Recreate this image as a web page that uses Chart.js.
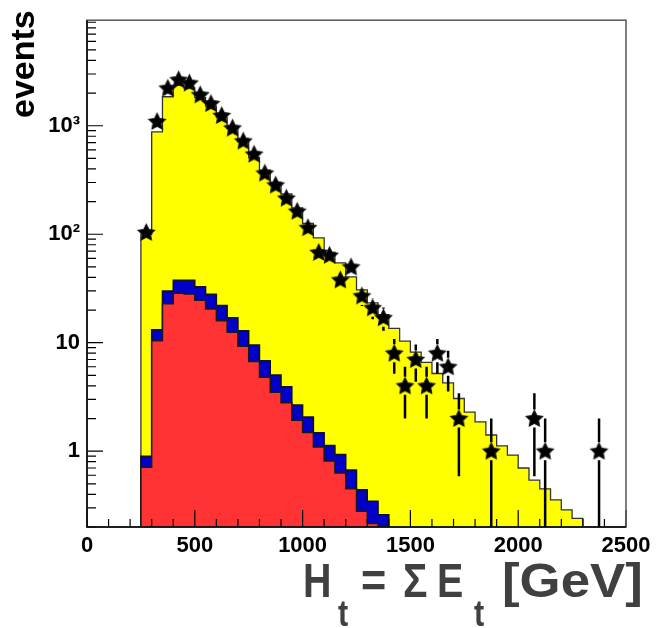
<!DOCTYPE html>
<html>
<head>
<meta charset="utf-8">
<script src="https://cdn.jsdelivr.net/npm/chart.js@4.4.1/dist/chart.umd.min.js"></script>
<style>
  html, body { margin: 0; padding: 0; background: #fff; }
  #wrap { width: 658px; height: 628px; }
</style>
</head>
<body>
<div id="wrap"><canvas id="myChart"></canvas></div>
<script>
// lower edges of the 50 GeV bins
const binLow = [250, 300, 350, 400, 450, 500, 550, 600, 650, 700,
  750, 800, 850, 900, 950, 1000, 1050, 1100, 1150, 1200,
  1250, 1300, 1350, 1400, 1450, 1500, 1550, 1600, 1650, 1700,
  1750, 1800, 1850, 1900, 1950, 2000, 2050, 2100, 2150, 2200, 2250];
const binWidth = 50;

// stacked MC components (events per bin)
const redVals = [0.71, 10.4, 22.9, 28.6, 28.1, 24.6, 20.5, 15.9, 12.5, 9.3,
  6.7, 4.8, 3.5, 2.8, 1.93, 1.49, 1.09, 0.81, 0.63, 0.45,
  0.28, 0.215, 0.15, 0.1, 0.07, 0, 0, 0, 0, 0,
  0, 0, 0, 0, 0, 0, 0, 0, 0, 0, 0];
const blueVals = [0.19, 2.8, 7.1, 9.1, 9.6, 8.2, 7.5, 6.1, 4.5, 3.6,
  2.8, 2.0, 1.55, 1.12, 0.74, 0.58, 0.39, 0.32, 0.30, 0.22,
  0.16, 0.13, 0.11, 0.08, 0.05, 0, 0, 0, 0, 0,
  0, 0, 0, 0, 0, 0, 0, 0, 0, 0, 0];
const yellowVals = [99, 864, 1822, 2317, 2192, 1784, 1491, 1175, 922, 700,
  500, 383, 295, 231, 172, 124, 91, 67, 53.6, 39.7,
  30.2, 22.9, 17.9, 13.4, 10.2, 8.2, 6.6, 5.2, 4.27, 3.06,
  2.29, 1.86, 1.41, 1.12, 0.92, 0.70, 0.54, 0.45, 0.355, 0.288, 0.24];

// observed events (bin centres)
const dataHt = [275, 325, 375, 425, 475, 525, 575, 625, 675, 725,
  775, 825, 875, 925, 975, 1025, 1075, 1125, 1175, 1225,
  1275, 1325, 1375, 1425, 1475, 1525, 1575, 1625, 1675, 1725,
  1875, 2075, 2125, 2375];
const dataEvents = [104, 1096, 2221, 2656, 2478, 1931, 1603, 1242, 953, 723,
  547, 366, 284, 215, 163, 115, 68, 64, 38, 50,
  27, 21, 17, 8, 4, 7, 4, 8, 6, 2,
  1, 2, 1, 1];

const xTicks = [0, 500, 1000, 1500, 2000, 2500];
const yTicks = [1, 10, 100, 1000];
const yTickLabels = ['1', '10', '10²', '10³'];

const yMin = 0.2, yMax = 9400;
const floorVal = 0.1;
const FONT = "'Liberation Sans', Arial, Helvetica, sans-serif";

function stepPoints(vals) {
  const pts = [{x: binLow[0], y: floorVal}];
  vals.forEach((v, i) => pts.push({x: binLow[i], y: Math.max(v, floorVal)}));
  pts.push({x: binLow[binLow.length - 1] + binWidth, y: floorVal});
  return pts;
}

const redTop = redVals.slice();
const blueTop = redVals.map((v, i) => v + blueVals[i]);
const totalTop = blueTop.map((v, i) => v + yellowVals[i]);

function makeStar(r) {
  const c = document.createElement('canvas');
  const s = Math.ceil(r * 2 + 3);
  c.width = s; c.height = s;
  const g = c.getContext('2d');
  g.translate(s / 2, s / 2 + 0.5);
  g.beginPath();
  for (let i = 0; i < 10; i++) {
    const rad = i % 2 ? r * 0.5 : r;
    const a = -Math.PI / 2 + i * Math.PI / 5;
    g.lineTo(rad * Math.cos(a), rad * Math.sin(a));
  }
  g.closePath();
  g.fillStyle = '#000';
  g.fill();
  g.strokeStyle = '#111';
  g.lineWidth = 1.2;
  g.stroke();
  return c;
}
const starImg = makeStar(8.6);

// poisson error bars under the star markers
const errorBars = {
  id: 'errorBars',
  beforeDatasetDraw(chart, args) {
    if (args.index !== 3) return;
    const ctx = chart.ctx, x = chart.scales.x, y = chart.scales.y, area = chart.chartArea;
    const gap = 9;
    ctx.save();
    ctx.strokeStyle = '#000';
    ctx.lineWidth = 2.5;
    dataEvents.forEach((n, i) => {
      const px = x.getPixelForValue(dataHt[i]);
      const cy = y.getPixelForValue(n);
      const e = Math.sqrt(n);
      const yTop = y.getPixelForValue(n + e);
      const yBot = n - e > 0 ? y.getPixelForValue(n - e) : area.bottom;
      ctx.beginPath();
      if (yTop < cy - gap) { ctx.moveTo(px, yTop); ctx.lineTo(px, cy - gap); }
      if (yBot > cy + gap) { ctx.moveTo(px, cy + gap); ctx.lineTo(px, Math.min(yBot, area.bottom)); }
      ctx.stroke();
    });
    ctx.restore();
  }
};

// root style frame, inward ticks and titles
const rootFrame = {
  id: 'rootFrame',
  afterDatasetsDraw(chart) {
    const ctx = chart.ctx, x = chart.scales.x, y = chart.scales.y, a = chart.chartArea;
    ctx.save();
    ctx.strokeStyle = '#000';
    ctx.lineWidth = 1.2;
    ctx.beginPath();
    for (let v = 0; v <= 2500; v += 100) {
      const px = x.getPixelForValue(v);
      const len = v % 500 === 0 ? 17 : 8;
      ctx.moveTo(px, a.bottom);
      ctx.lineTo(px, a.bottom - len);
    }
    for (let d = 0.1; d < 10000; d *= 10) {
      for (let m = 1; m <= 9; m++) {
        const v = m * d;
        if (v < yMin || v > yMax) continue;
        const py = y.getPixelForValue(v);
        const len = m === 1 ? 16 : 9;
        ctx.moveTo(a.left, py);
        ctx.lineTo(a.left + len, py);
      }
    }
    ctx.stroke();
    ctx.strokeStyle = '#555';
    ctx.lineWidth = 1.5;
    ctx.strokeRect(a.left, a.top, a.right - a.left, a.bottom - a.top);
    ctx.strokeStyle = '#000';
    ctx.beginPath();
    ctx.moveTo(a.left, a.top);
    ctx.lineTo(a.left, a.bottom);
    ctx.lineTo(a.right, a.bottom);
    ctx.stroke();
    ctx.restore();
  },
  afterDraw(chart) {
    const ctx = chart.ctx;
    ctx.save();
    // y title
    ctx.translate(34, 118);
    ctx.rotate(-Math.PI / 2);
    ctx.fillStyle = '#000';
    ctx.font = 'bold 34px ' + FONT;
    ctx.fillText('events', 0, 0);
    ctx.restore();

    // x title with subscripts, pieces placed like the original
    const parts = [
      {t: 'H', f: 'bold 48px ' + FONT, x: 303, dy: 0, sx: 0.82},
      {t: 't', f: 'bold 36px ' + FONT, x: 338, dy: 29, sx: 0.85},
      {t: '=', f: 'bold 48px ' + FONT, x: 361, dy: 0, sx: 0.9},
      {t: 'Σ', f: 'bold 48px ' + FONT, x: 403, dy: 0, sx: 0.85},
      {t: 'E', f: 'bold 48px ' + FONT, x: 437, dy: 0, sx: 0.82},
      {t: 't', f: 'bold 36px ' + FONT, x: 474, dy: 29, sx: 0.85},
      {t: '[GeV]', f: 'bold 48px ' + FONT, x: 502, dy: 0, sx: 1.1}
    ];
    ctx.fillStyle = '#404040';
    parts.forEach(p => {
      ctx.save();
      ctx.translate(p.x, 597 + p.dy);
      ctx.scale(p.sx, 1);
      ctx.font = p.f;
      ctx.fillText(p.t, 0, 0);
      ctx.restore();
    });
  }
};

const ctx = document.getElementById('myChart');

new Chart(ctx, {
  type: 'line',
  data: {
    datasets: [
      {
        label: 'red',
        data: stepPoints(redTop),
        stepped: 'before',
        backgroundColor: '#ff3333',
        borderColor: '#1a1a1a',
        borderWidth: 1.5,
        pointRadius: 0,
        fill: 'start',
        order: 1
      },
      {
        label: 'blue',
        data: stepPoints(blueTop),
        stepped: 'before',
        backgroundColor: '#0000c8',
        borderColor: '#111',
        borderWidth: 1.5,
        pointRadius: 0,
        fill: 'start',
        order: 2
      },
      {
        label: 'yellow',
        data: stepPoints(totalTop),
        stepped: 'before',
        backgroundColor: '#ffff00',
        borderColor: '#333',
        borderWidth: 1.3,
        pointRadius: 0,
        fill: 'start',
        order: 3
      },
      {
        label: 'data',
        data: dataHt.map((h, i) => ({x: h, y: dataEvents[i]})),
        showLine: false,
        pointStyle: starImg,
        pointRadius: 8,
        order: 0
      }
    ]
  },
  options: {
    responsive: true,
    maintainAspectRatio: false,
    devicePixelRatio: 1,
    animation: false,
    layout: { padding: { left: 0, right: 32, top: 10, bottom: 0 } },
    plugins: {
      legend: { display: false },
      tooltip: { enabled: false }
    },
    scales: {
      x: {
        type: 'linear',
        min: 0,
        max: 2500,
        afterBuildTicks: s => { s.ticks = xTicks.map(v => ({value: v})); },
        afterFit: s => { s.height = 101; },
        grid: { display: false, drawTicks: false },
        border: { display: false },
        ticks: {
          color: '#000',
          font: { family: FONT, size: 22, weight: 'bold' },
          padding: 6,
          maxRotation: 0,
          autoSkip: false,
          callback: v => String(v)
        }
      },
      y: {
        type: 'logarithmic',
        min: yMin,
        max: yMax,
        afterBuildTicks: s => { s.ticks = yTicks.map(v => ({value: v})); },
        afterFit: s => { s.width = 87; },
        grid: { display: false, drawTicks: false },
        border: { display: false },
        ticks: {
          color: '#000',
          font: { family: FONT, size: 22, weight: 'bold' },
          padding: 7,
          autoSkip: false,
          callback: (v, i) => yTickLabels[i]
        }
      }
    }
  },
  plugins: [errorBars, rootFrame]
});
</script>
</body>
</html>
